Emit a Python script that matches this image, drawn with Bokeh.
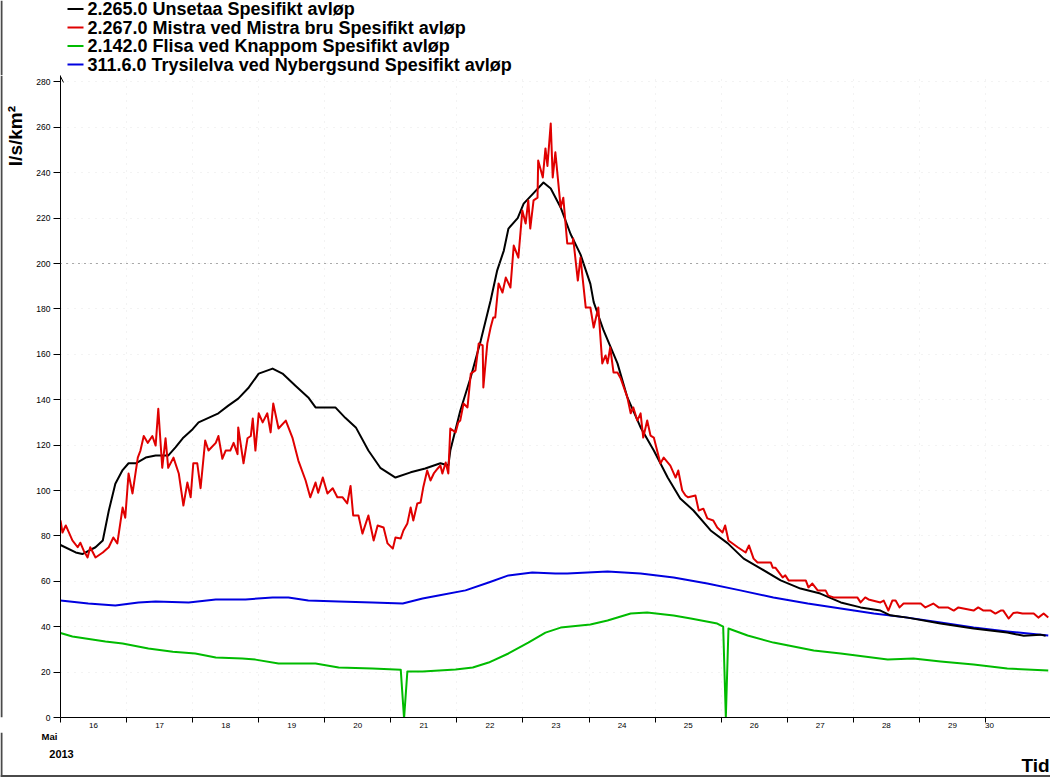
from math import pi
from bokeh.plotting import figure
from bokeh.layouts import column, row
from bokeh.models import FixedTicker, Span, Range1d, Arrow, OpenHead
from bokeh.core.properties import value
from bokeh.embed import file_html
from bokeh.resources import INLINE

# ---------------- data (x = day of May 2013, y = l/s/km2) ----------------
series_names = [
    "2.265.0 Unsetaa Spesifikt avløp",
    "2.267.0 Mistra ved Mistra bru Spesifikt avløp",
    "2.142.0 Flisa ved Knappom Spesifikt avløp",
    "311.6.0 Trysilelva ved Nybergsund Spesifikt avløp",
]
series_colors = ["#000000", "#e00000", "#00bb00", "#0000e0"]

unsetaa = [
    (16.00, 76), (16.23, 72.7), (16.33, 72), (16.53, 75), (16.64, 78), (16.73, 91), (16.83, 103),
    (16.94, 109), (17.03, 112), (17.14, 112), (17.29, 114.5), (17.44, 115.4), (17.63, 115.4),
    (17.74, 119), (17.85, 123), (18.00, 127), (18.09, 130), (18.24, 132), (18.39, 134), (18.54, 137.4),
    (18.69, 140.5), (18.85, 145.4), (19.00, 151.5), (19.21, 153.7), (19.36, 151.5), (19.56, 146),
    (19.75, 141), (19.86, 136.6), (20.06, 136.6), (20.16, 136.6), (20.31, 132), (20.47, 127.8),
    (20.66, 117.6), (20.84, 110), (21.07, 105.7), (21.30, 108), (21.52, 109.7), (21.75, 112),
    (21.87, 111), (21.90, 117.6), (22.05, 135), (22.21, 150), (22.36, 166), (22.51, 183.7),
    (22.61, 197), (22.71, 205.7), (22.78, 215.4), (22.92, 220), (23.01, 226.4), (23.16, 231),
    (23.31, 235.7), (23.42, 233), (23.57, 224.7), (23.72, 213), (23.87, 204), (24.02, 191),
    (24.07, 183), (24.22, 170.5), (24.43, 156), (24.58, 141), (24.78, 127.8), (24.98, 117.6),
    (25.19, 105.7), (25.38, 96.5), (25.58, 91.2), (25.84, 82.4), (26.10, 76.7), (26.34, 70),
    (26.60, 65.6), (26.90, 60.4), (27.20, 56.8), (27.50, 54.6), (27.81, 50.7), (28.11, 48.5),
    (28.41, 47.1), (28.56, 45), (28.82, 44), (29.32, 41.4), (29.82, 39.2), (30.33, 37.4),
    (30.58, 36), (30.83, 36.5), (30.91, 36),
]

mistra = [
    (16.00, 86.8), (16.03, 81.5), (16.08, 84.6), (16.18, 78), (16.26, 75), (16.30, 77), (16.35, 73.6),
    (16.41, 70.5), (16.45, 75), (16.53, 70.5), (16.64, 72.7), (16.73, 75), (16.80, 79.3), (16.86, 76.7),
    (16.94, 92.5), (16.98, 88), (17.03, 107.5), (17.09, 98.7), (17.17, 114.5), (17.21, 117.6),
    (17.26, 124), (17.32, 121), (17.39, 124), (17.44, 119.8), (17.48, 136), (17.54, 110), (17.59, 123),
    (17.63, 110), (17.71, 114.5), (17.79, 107.5), (17.86, 93.4), (17.92, 103.5), (17.97, 97),
    (18.01, 112), (18.07, 112), (18.12, 101), (18.19, 122), (18.24, 117.6), (18.35, 121), (18.39, 124),
    (18.45, 114), (18.50, 117.6), (18.57, 117.6), (18.62, 121), (18.68, 116), (18.69, 127.8),
    (18.77, 112), (18.83, 123), (18.88, 124), (18.91, 131.7), (18.95, 117.6), (19.00, 134), (19.06, 130),
    (19.13, 134), (19.18, 125.6), (19.22, 138.3), (19.30, 127.3), (19.41, 130.8), (19.51, 123.3),
    (19.60, 113.2), (19.71, 104.4), (19.78, 97), (19.86, 103.5), (19.90, 99), (19.97, 105.7),
    (20.04, 98.7), (20.12, 101), (20.19, 97), (20.27, 97), (20.34, 94.3), (20.39, 102), (20.43, 89),
    (20.51, 89), (20.57, 81), (20.66, 89), (20.74, 78), (20.80, 84.6), (20.89, 83.7), (20.95, 76.7),
    (21.03, 74.4), (21.07, 79.3), (21.15, 78.9), (21.19, 82.4), (21.25, 85.5), (21.30, 92.5),
    (21.34, 86.8), (21.40, 94.3), (21.45, 94.7), (21.49, 101.3), (21.55, 108.8), (21.60, 104.4),
    (21.65, 107.5), (21.71, 109.7), (21.75, 111), (21.78, 107.5), (21.83, 112.3), (21.87, 107.5),
    (21.90, 127.3), (21.98, 125.6), (22.02, 130), (22.05, 130.8), (22.10, 138.3), (22.16, 136.6),
    (22.21, 151.5), (22.28, 152.9), (22.33, 164.8), (22.39, 163.9), (22.40, 145.4), (22.46, 164.8),
    (22.51, 171.8), (22.55, 176.2), (22.58, 176.2), (22.63, 191.2), (22.69, 187.2), (22.74, 193.8),
    (22.81, 189.4), (22.86, 207.9), (22.93, 202.6), (22.99, 223.3), (23.04, 217.6), (23.08, 227.8),
    (23.11, 215.4), (23.16, 227.8), (23.22, 229), (23.23, 245.4), (23.30, 237.9), (23.34, 250.7),
    (23.37, 243), (23.42, 261.7), (23.45, 237.9), (23.49, 249), (23.57, 224.7), (23.61, 229),
    (23.67, 208.8), (23.75, 208.8), (23.76, 211), (23.83, 192.5), (23.87, 202.6), (23.95, 180.6),
    (24.02, 180.6), (24.07, 171.8), (24.14, 180.6), (24.20, 156), (24.25, 159.5), (24.28, 156),
    (24.32, 163), (24.37, 152), (24.43, 152), (24.48, 149.3), (24.58, 141), (24.63, 134), (24.67, 136.6),
    (24.73, 130.8), (24.78, 134), (24.82, 123.3), (24.88, 130.8), (24.93, 124.2), (24.98, 123.3),
    (25.08, 111.9), (25.13, 114.5), (25.23, 111), (25.31, 105.7), (25.35, 108.8), (25.41, 100),
    (25.46, 97.8), (25.50, 97), (25.61, 97.8), (25.66, 91.2), (25.73, 92), (25.79, 87.7), (25.88, 86.8),
    (25.94, 83.7), (26.02, 81.5), (26.06, 84.6), (26.11, 78), (26.25, 75), (26.37, 72.7), (26.42, 75.8),
    (26.49, 70), (26.55, 68.3), (26.75, 68.3), (26.78, 66), (26.82, 66), (26.93, 61.7), (26.97, 62.6),
    (27.02, 60.4), (27.28, 60.4), (27.32, 57.3), (27.38, 59), (27.46, 56), (27.58, 56), (27.62, 53.7),
    (27.70, 52.9), (28.06, 52.9), (28.11, 50.7), (28.18, 52.9), (28.23, 52), (28.41, 50.7),
    (28.46, 51.5), (28.53, 47.1), (28.59, 51.5), (28.64, 51.5), (28.70, 48.5), (28.76, 50.2),
    (29.02, 50.2), (29.09, 48.5), (29.21, 50.2), (29.29, 48.5), (29.43, 48.5), (29.52, 47.1),
    (29.59, 48.5), (29.82, 47.1), (29.89, 48.5), (29.97, 47.1), (30.08, 47.1), (30.15, 45.8),
    (30.23, 47.1), (30.27, 47.1), (30.35, 43.6), (30.42, 46), (30.48, 46.3), (30.56, 45.8),
    (30.73, 45.8), (30.80, 44), (30.88, 45.8), (30.95, 44),
]

flisa = [
    (16.00, 37.2), (16.18, 35.7), (16.68, 33.5), (16.94, 32.6), (17.33, 30.4), (17.70, 29),
    (18.04, 28.2), (18.35, 26.4), (18.75, 26), (18.95, 25.5), (19.30, 23.8), (19.86, 23.8),
    (20.21, 22), (20.72, 21.6), (21.15, 21.0), (21.20, -0.5), (21.25, 20.3), (21.48, 20.3),
    (21.98, 21.1), (22.24, 22), (22.48, 24.2), (22.78, 28.2), (23.08, 33), (23.34, 37.4),
    (23.57, 39.6), (24.02, 41), (24.28, 42.7), (24.63, 45.8), (24.88, 46.3), (25.28, 44.9),
    (25.54, 43.6), (25.94, 41.4), (26.03, 40), (26.07, 0), (26.11, 39.2), (26.40, 36.1),
    (26.79, 33), (27.40, 29.5), (27.81, 28.2), (28.52, 25.5), (28.91, 26), (29.32, 24.7),
    (29.82, 23.3), (30.33, 21.6), (30.95, 20.7),
]

trysilelva = [
    (16.00, 51.5), (16.42, 50.2), (16.83, 49.3), (17.18, 50.7), (17.44, 51.1), (17.94, 50.7),
    (18.35, 52), (18.80, 52), (19.21, 52.9), (19.45, 52.9), (19.75, 51.5), (20.21, 51.1),
    (20.72, 50.7), (21.18, 50.2), (21.48, 52.4), (21.72, 53.7), (22.13, 56), (22.48, 59.5),
    (22.78, 62.6), (23.14, 63.9), (23.49, 63.4), (23.67, 63.4), (24.28, 64.3), (24.78, 63.4),
    (25.28, 61.7), (25.79, 59), (26.29, 56), (26.79, 52.9), (27.31, 50.2), (27.81, 48),
    (28.31, 45.8), (28.82, 44), (29.32, 41.9), (29.82, 39.6), (30.33, 37.9), (30.95, 36.1),
]

day_labels = [str(d) for d in range(16, 31)]
day_label_pos = [d + 0.5 for d in range(16, 30)] + [30.06]
day_bounds = list(range(16, 31))
y_ticks = list(range(0, 281, 20))
y_title = "l/s/km²"
month_label = "Mai"
year_label = "2013"
x_title = "Tid"

# ---------------- layout constants (pixels) ----------------
PAGE_W, PAGE_H = 1050, 777
TOP_H = 75            # legend strip
LEFT_W = 30           # y-title strip
FRAME_W, FRAME_H = 990, 642
MAIN_BOTTOM = 15      # room for x tick labels
PX_PER_DAY = 66.07
PX_PER_UNIT = 2.27
BORDER = "#4a4a4a"
FONT = "Liberation Sans"
MAIN_H = FRAME_H + MAIN_BOTTOM
BOT_H = PAGE_H - TOP_H - MAIN_H


def strip(w, h, y0, y1):
    """Helper figure whose data coordinates equal page pixels."""
    f = figure(width=w, height=h, output_backend="svg", toolbar_location=None,
               x_range=Range1d(0, w), y_range=Range1d(y1, y0),
               x_axis_type=None, y_axis_type=None, min_border=0)
    f.outline_line_color = None
    f.background_fill_color = "white"
    f.border_fill_color = "white"
    return f


# ---------------- legend strip ----------------
top = strip(PAGE_W, TOP_H, 0, TOP_H)
top.segment(x0=[1], y0=[0], x1=[1], y1=[TOP_H], line_color=BORDER, line_width=2)
row_mid = [8.5, 27, 45.5, 64]
top.segment(x0=[67] * 4, y0=row_mid, x1=[83] * 4, y1=row_mid,
            line_color=series_colors, line_width=2)
top.text(x=[87] * 4, y=row_mid, text=series_names, text_font=value(FONT),
         text_font_size="18px", text_font_style="bold", text_color="black",
         text_align="left", text_baseline="middle")

# ---------------- left strip with y title ----------------
left = strip(LEFT_W, MAIN_H, TOP_H, TOP_H + MAIN_H)
left.segment(x0=[1], y0=[TOP_H], x1=[1], y1=[TOP_H + MAIN_H], line_color=BORDER, line_width=2)
left.text(x=[15], y=[137], text=[y_title], angle=pi / 2, text_font=value(FONT),
          text_font_size="19px", text_font_style="bold", text_color="black",
          text_align="center", text_baseline="middle")

# ---------------- main chart ----------------
p = figure(
    frame_width=FRAME_W, frame_height=FRAME_H, output_backend="svg", toolbar_location=None,
    x_range=Range1d(16, 16 + FRAME_W / PX_PER_DAY), y_range=Range1d(0, FRAME_H / PX_PER_UNIT),
    min_border_left=60 - LEFT_W, min_border_right=0, min_border_top=0,
    min_border_bottom=MAIN_BOTTOM,
)
p.outline_line_color = None
p.background_fill_color = "white"
p.border_fill_color = "white"

ax = p.xaxis[0]
ax.ticker = FixedTicker(ticks=day_label_pos, minor_ticks=day_bounds)
ax.major_label_overrides = {pos: lab for pos, lab in zip(day_label_pos, day_labels)}
ax.major_tick_line_color = None
ax.major_tick_in = 0
ax.major_tick_out = 0
ax.minor_tick_in = 0
ax.minor_tick_out = 5
ax.minor_tick_line_color = "black"
ax.axis_line_color = "black"
ax.major_label_text_font = FONT
ax.major_label_text_font_size = "8px"
ax.major_label_text_color = "black"
ax.major_label_standoff = 0

ay = p.yaxis[0]
ay.ticker = FixedTicker(ticks=y_ticks)
ay.minor_tick_line_color = None
ay.major_tick_in = 0
ay.major_tick_out = 7
ay.major_tick_line_color = "black"
ay.axis_line_color = "black"
ay.major_label_text_font = FONT
ay.major_label_text_font_size = "8.5px"
ay.major_label_text_color = "black"
ay.major_label_standoff = 3

p.xgrid.ticker = FixedTicker(ticks=day_bounds)
p.xgrid.grid_line_color = "#e6e6e6"
p.xgrid.grid_line_dash = "1 6"
p.ygrid.grid_line_color = "#e6e6e6"
p.ygrid.grid_line_dash = "1 6"
p.add_layout(Span(location=200, dimension="width", line_color="#555555",
                  line_dash="1 5", line_width=1))

datasets = [unsetaa, mistra, flisa, trysilelva]
for i in [2, 3, 0, 1]:
    xs, ys = zip(*datasets[i])
    p.line(list(xs), list(ys), line_color=series_colors[i], line_width=2, line_join="round")

p.add_layout(Arrow(end=OpenHead(size=6, line_width=1, line_color="black"),
                   x_start=16, y_start=279, x_end=16, y_end=282.4,
                   line_color="black", line_width=1))

# ---------------- bottom strip ----------------
y_bot0 = TOP_H + MAIN_H
bottom = strip(PAGE_W, BOT_H, y_bot0, PAGE_H)
bottom.segment(x0=[1, 0], y0=[y_bot0, 775.5], x1=[1, PAGE_W], y1=[PAGE_H, 775.5],
               line_color=BORDER, line_width=2)
bottom.text(x=[49], y=[735.5], text=[month_label], text_font=value(FONT),
            text_font_size="9.5px", text_font_style="bold", text_color="black",
            text_align="center", text_baseline="middle")
bottom.text(x=[61], y=[753], text=[year_label], text_font=value(FONT),
            text_font_size="11px", text_font_style="bold", text_color="black",
            text_align="center", text_baseline="middle")
bottom.text(x=[1021], y=[765], text=[x_title], text_font=value(FONT),
            text_font_size="19px", text_font_style="bold", text_color="black",
            text_align="left", text_baseline="middle")

layout = column(top, row(left, p), bottom)
open("out.html", "w").write(file_html(layout, INLINE))
